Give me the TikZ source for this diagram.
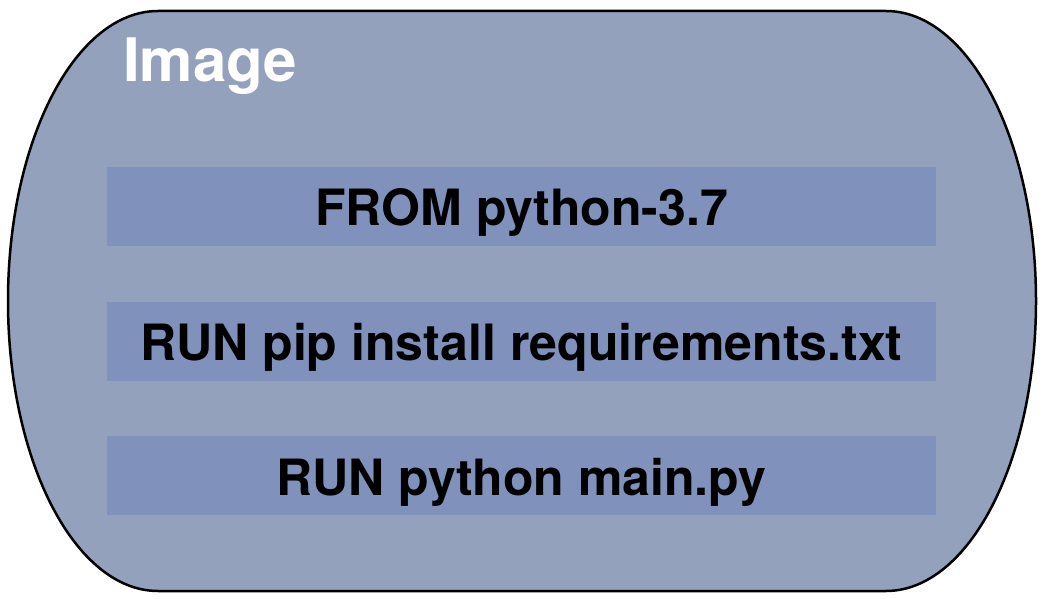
\documentclass[tikz,border=0pt]{standalone}
\usepackage{fontspec}
\setmainfont{TeX Gyre Heros}
\begin{document}
\begin{tikzpicture}[x=1pt,y=1pt,
  bar/.style={fill=barcol,draw=none,minimum width=829pt,minimum height=79pt,inner sep=0pt,text height=39pt,text depth=0pt,font=\fontsize{50}{55}\selectfont\bfseries},
]
\definecolor{outercol}{RGB}{148,161,188}
\definecolor{barcol}{RGB}{128,145,188}
\useasboundingbox (0,0) rectangle (1044,598);
\draw[fill=outercol,line width=2.5pt] (158,587) -- (886,587)
  arc[start angle=90,end angle=-90,x radius=150,y radius=290] -- (158,7)
  arc[start angle=270,end angle=90,x radius=150,y radius=290] -- cycle;
\node[anchor=base west,text=white,inner sep=0pt,font=\fontsize{60}{62}\selectfont\bfseries] (title) at (123,516) {Image};
\node[bar] (b1) at (521.5,391.5) {FROM python-3.7};
\node[bar] (b2) at (521.5,257) {RUN pip install requirements.txt};
\node[bar] (b3) at (521.5,122.5) {RUN python main.py};
\end{tikzpicture}
\end{document}
